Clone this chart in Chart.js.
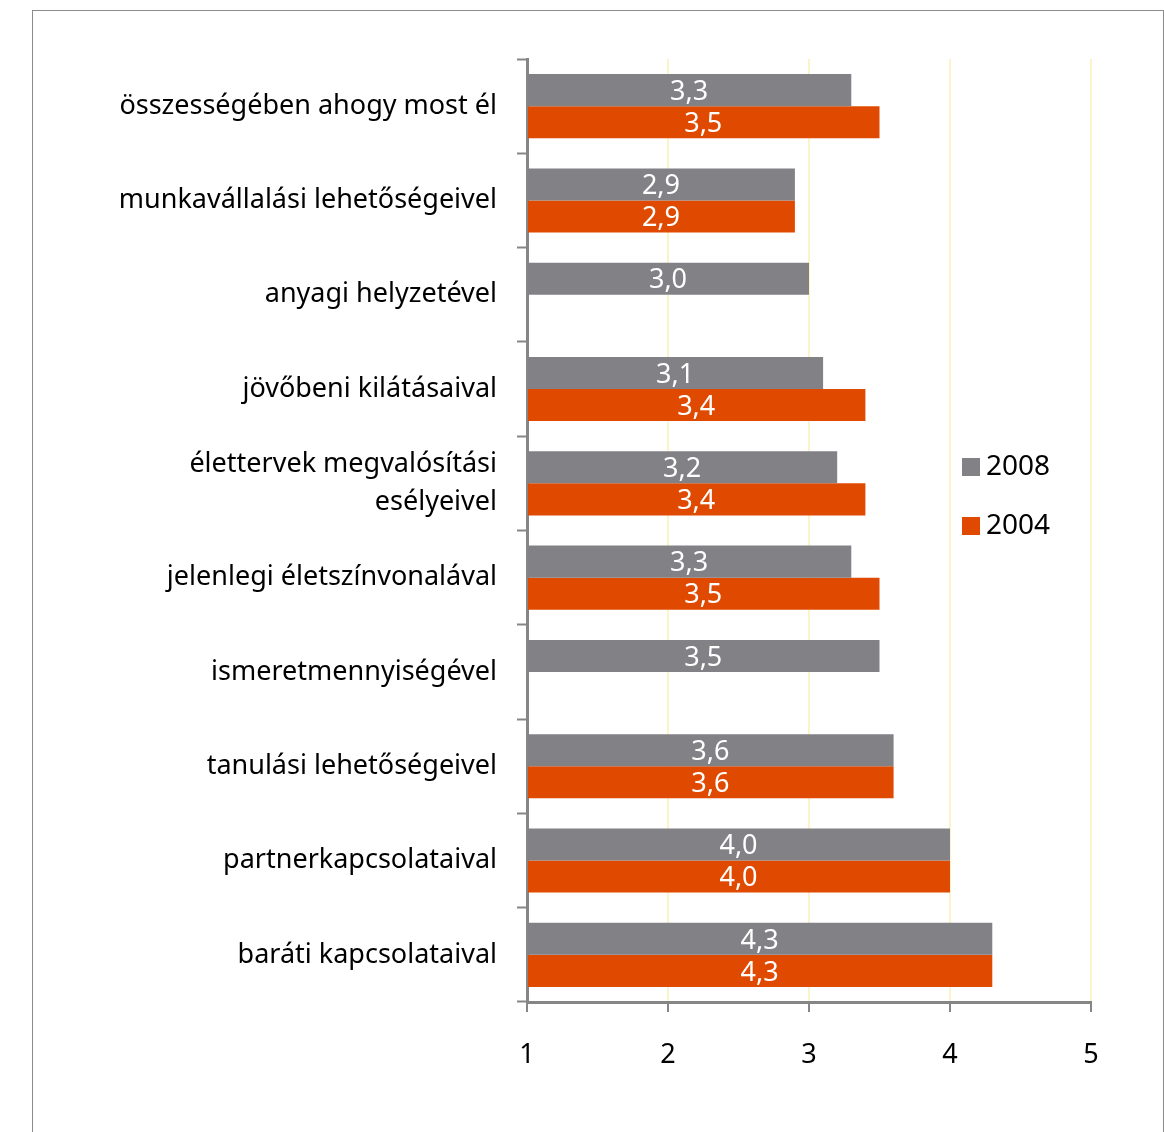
<!DOCTYPE html>
<html>
<head>
<meta charset="utf-8">
<script src="https://cdn.jsdelivr.net/npm/chart.js@4"></script>
<style>
  body { margin: 0; background: #fff; }
  #frame { position: absolute; left: 32px; top: 10px; width: 1130px; height: 1200px; border: 1px solid #8c8c8c; }
  #c { position: absolute; left: 0; top: 0; }
</style>
</head>
<body>
<div id="frame"></div>
<canvas id="c" width="1164" height="1132"></canvas>
<script>
const categories = [
  "összességében ahogy most él",
  "munkavállalási lehetőségeivel",
  "anyagi helyzetével",
  "jövőbeni kilátásaival",
  ["élettervek megvalósítási", "esélyeivel"],
  "jelenlegi életszínvonalával",
  "ismeretmennyiségével",
  "tanulási lehetőségeivel",
  "partnerkapcsolataival",
  "baráti kapcsolataival"
];
const values2008 = [3.3, 2.9, 3.0, 3.1, 3.2, 3.3, 3.5, 3.6, 4.0, 4.3];
const values2004 = [3.5, 2.9, null, 3.4, 3.4, 3.5, null, 3.6, 4.0, 4.3];
const seriesNames = ["2008", "2004"];
const xTicks = [1, 2, 3, 4, 5];

const GRAY = "#828186";
const ORANGE = "#e04a00";
const AXIS = "#868686";
const FONT = "'Noto Sans', 'Open Sans', sans-serif";

// white labels in the middle of each bar
const barLabels = {
  id: "barLabels",
  afterDatasetsDraw(chart) {
    const ctx = chart.ctx;
    const x0 = chart.scales.x.getPixelForValue(1);
    ctx.save();
    ctx.fillStyle = "#fff";
    ctx.font = "27px " + FONT;
    ctx.textAlign = "center";
    ctx.textBaseline = "middle";
    chart.data.datasets.forEach((ds, i) => {
      chart.getDatasetMeta(i).data.forEach((bar, j) => {
        const v = ds.data[j];
        if (v == null) return;
        ctx.fillText(v.toFixed(1).replace(".", ","), (x0 + bar.x) / 2, bar.y + 2);
      });
    });
    ctx.restore();
  }
};

// legend box on the right, over the grid
const sideLegend = {
  id: "sideLegend",
  afterDraw(chart) {
    const ctx = chart.ctx;
    ctx.save();
    ctx.fillStyle = "#fff";
    ctx.fillRect(952, 437, 134, 118);
    ctx.font = "28px " + FONT;
    ctx.textBaseline = "middle";
    ctx.textAlign = "left";
    [GRAY, ORANGE].forEach((col, i) => {
      const y = 467 + i * 59;
      ctx.fillStyle = col;
      ctx.fillRect(962, y - 9, 18, 18);
      ctx.fillStyle = "#000";
      ctx.fillText(seriesNames[i], 986, y);
    });
    ctx.restore();
  }
};

new Chart(document.getElementById("c"), {
  type: "bar",
  data: {
    labels: categories,
    datasets: [
      { label: seriesNames[0], data: values2008, backgroundColor: GRAY, base: 1 },
      { label: seriesNames[1], data: values2004, backgroundColor: ORANGE, base: 1 }
    ]
  },
  options: {
    indexAxis: "y",
    responsive: false,
    animation: false,
    layout: { padding: { top: 59, right: 73, left: 0, bottom: 0 } },
    datasets: { bar: { categoryPercentage: 0.68, barPercentage: 1.0, borderWidth: 0 } },
    plugins: { legend: { display: false }, tooltip: { enabled: false } },
    scales: {
      x: {
        min: 1,
        max: 5,
        afterBuildTicks: s => { s.ticks = xTicks.map(v => ({ value: v })); },
        afterFit: s => { s.height = 130; },
        grid: {
          color: ctx => ctx.tick && ctx.tick.value === 1 ? "rgba(0,0,0,0)" : "#fdf3c8",
          lineWidth: 2,
          tickColor: AXIS,
          tickWidth: 2,
          tickLength: 10
        },
        border: { color: AXIS, width: 3 },
        ticks: { color: "#000", font: { family: FONT, size: 27 }, padding: 27 }
      },
      y: {
        afterFit: s => { s.width = 527; },
        grid: {
          drawOnChartArea: false,
          offset: true,
          tickColor: AXIS,
          tickWidth: 2,
          tickLength: 10
        },
        border: { color: AXIS, width: 3 },
        ticks: { color: "#000", font: { family: FONT, size: 27, lineHeight: 1.4 }, padding: 20 }
      }
    }
  },
  plugins: [barLabels, sideLegend]
});
</script>
</body>
</html>
